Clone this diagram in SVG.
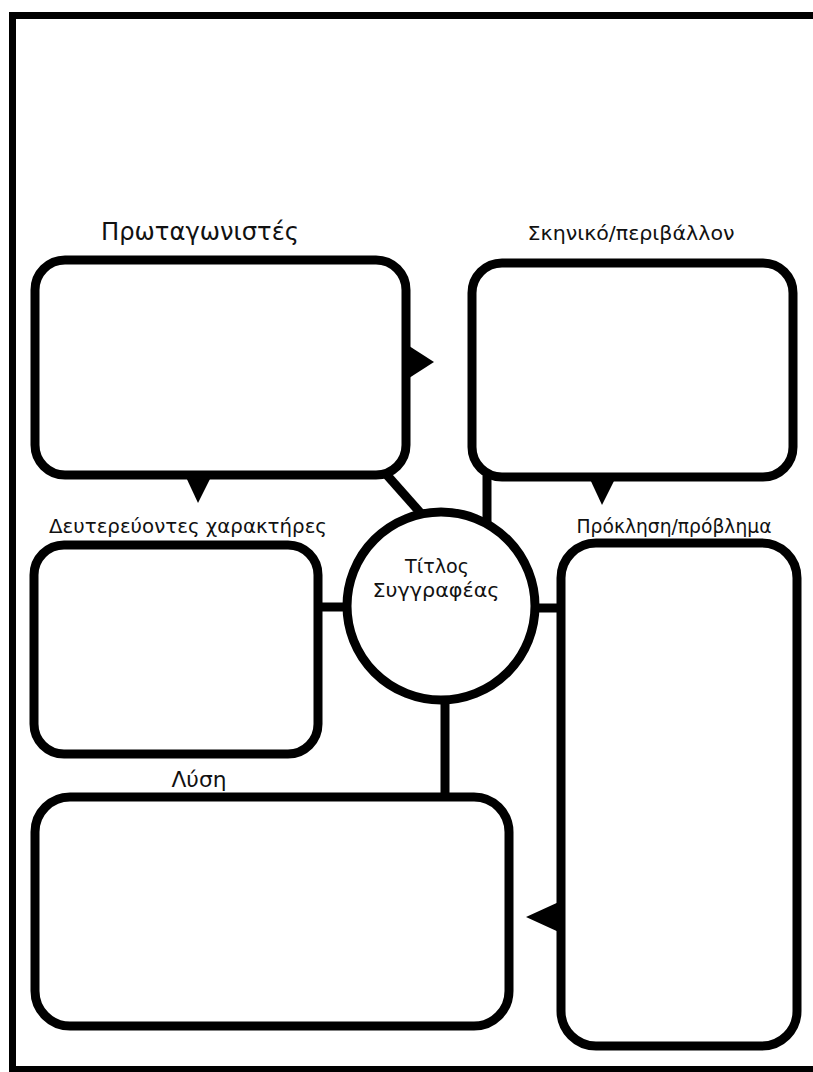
<svg xmlns="http://www.w3.org/2000/svg" width="813" height="1072" viewBox="0 0 813 1072">
<style>
.box{fill:#fff;stroke:#000;stroke-width:9}
.con{stroke:#000;stroke-width:9;fill:none}
.tri{fill:#000;stroke:none}
.lbl{font-family:"DejaVu Sans","Noto Sans",sans-serif;fill:#111;text-anchor:middle}
</style>
<rect x="0" y="0" width="813" height="1072" fill="#fff"/>
<path d="M813 15.5 H12.5 V1069.5 H813" fill="none" stroke="#000" stroke-width="7"/>
<g id="connectors">
<line class="con" x1="386" y1="474" x2="425" y2="518"/>
<line class="con" x1="487" y1="476" x2="487" y2="530"/>
<line class="con" x1="318" y1="607" x2="352" y2="607"/>
<line class="con" x1="530" y1="608" x2="561" y2="608"/>
<line class="con" x1="445" y1="695" x2="445" y2="797"/>
</g>
<g id="node-protagonists">
<rect class="box" x="35" y="260" width="371" height="215" rx="30"/>
<polygon class="tri" points="406,344 434,362 406,380"/>
<polygon class="tri" points="185,475 212,475 198,503"/>
<text class="lbl" x="200" y="240" font-size="24" textLength="198" lengthAdjust="spacingAndGlyphs">Πρωταγωνιστές</text>
</g>
<g id="node-setting">
<rect class="box" x="472" y="263" width="321" height="214" rx="30"/>
<polygon class="tri" points="589,477 616,477 602,505"/>
<text class="lbl" x="631" y="240" font-size="20" textLength="207" lengthAdjust="spacingAndGlyphs">Σκηνικό/περιβάλλον</text>
</g>
<g id="node-secondary">
<rect class="box" x="34" y="545" width="284" height="209" rx="30"/>
<text class="lbl" x="188" y="533" font-size="19" textLength="278" lengthAdjust="spacingAndGlyphs">Δευτερεύοντες χαρακτήρες</text>
</g>
<g id="node-problem">
<rect class="box" x="561" y="543" width="236" height="503" rx="35"/>
<polygon class="tri" points="561,901 526,917 561,933"/>
<text class="lbl" x="674" y="533" font-size="19" textLength="195" lengthAdjust="spacingAndGlyphs">Πρόκληση/πρόβλημα</text>
</g>
<g id="node-solution">
<rect class="box" x="35" y="797" width="474" height="229" rx="35"/>
<text class="lbl" x="199" y="787" font-size="21" textLength="55" lengthAdjust="spacingAndGlyphs">Λύση</text>
</g>
<g id="node-title">
<circle class="box" cx="441" cy="606" r="94"/>
<text class="lbl" x="437" y="573" font-size="20" textLength="64" lengthAdjust="spacingAndGlyphs">Τίτλος</text>
<text class="lbl" x="436" y="597" font-size="20" textLength="127" lengthAdjust="spacingAndGlyphs">Συγγραφέας</text>
</g>
</svg>
